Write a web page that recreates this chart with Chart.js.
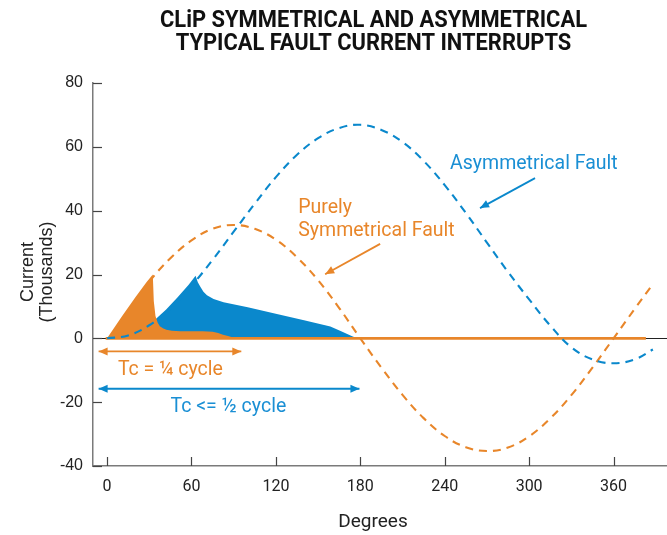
<!DOCTYPE html>
<html><head><meta charset="utf-8">
<script src="https://cdn.jsdelivr.net/npm/chart.js@4"></script>
<style>html,body{margin:0;padding:0;background:#fff;overflow:hidden}</style>
</head><body>
<canvas id="c" width="667" height="535"></canvas>
<script>
// ---- data ----
const degrees = [0,15,30,45,60,75,90,105,120,135,150,165,180,195,210,225,240,255,270,285,300,315,330,345,360,375,388];
const asymmetricalFault = [0,0.9,4.1,9.3,16.4,24.6,33.4,42.2,50.5,57.5,62.7,65.9,66.9,65.3,61.5,55.6,48.0,39.3,30.0,20.8,12.2,4.0,-2.8,-6.6,-7.8,-6.6,-3.5];
const symmetricalFault = [0,9.2,17.8,25.1,30.7,34.3,35.5,34.3,30.9,25.4,18.2,9.5,0,-9.2,-17.7,-25.0,-30.6,-34.1,-35.3,-34.2,-30.7,-25.1,-17.8,-9.2,0,9.2,17.0];

const symInterruptDeg = [0,10,20,28,32.5,33.2,34.4,36,37.5,40,42.2,46,52,60,68,75,79,82.4,86,89.5,91];
const symInterruptCurrent = [0,6.5,12.8,17.6,20.0,11.7,7.0,4.9,3.8,3.1,2.7,2.4,2.2,2.2,2.2,2.1,1.7,1.1,0.7,0.3,0];

const asymInterruptDeg = [0,15,30,36,42,50,58,62.9,64.5,66.3,68.5,71,75.7,82.8,100,123,140,158.7,166,170.3,175,179];
const asymInterruptCurrent = [0,0.9,4.1,6.6,9.0,12.8,16.8,19.6,17.6,16.2,14.6,13.5,12.3,11.3,9.7,7.4,5.7,3.7,2.3,1.4,0.5,0];

const zeroLineDeg = [-1,383];
const zeroLineCurrent = [0,0];

const xTickValues = [0,60,120,180,240,300,360];
const yTickValues = [-40,-20,0,20,40,60,80];

const titleLines = ['CLiP SYMMETRICAL AND ASYMMETRICAL','TYPICAL FAULT CURRENT INTERRUPTS'];
const xAxisTitle = 'Degrees';
const yAxisTitleLines = ['Current','(Thousands)'];

// ---- annotations (data coordinates) ----
const BLUE = '#0a88cc', ORANGE = '#e8862a', BLUE_TEXT = '#1a8fd4';
const symHiddenBelowDeg = 30; // dashed symmetrical curve is hidden under the orange interrupt area
const arrows = [
  {from:[304.2,50.2], to:[265.1,40.8], color:BLUE, both:false},
  {from:[194.1,29.6], to:[155,20.1], color:ORANGE, both:false},
  {from:[-6,-4.1], to:[95.4,-4.1], color:ORANGE, both:true},
  {from:[-6,-15.8], to:[179.4,-15.8], color:BLUE, both:true}
];
const notes = [
  {text:'Asymmetrical Fault', at:[243.8,54.7], align:'left', color:BLUE_TEXT},
  {text:'Purely', at:[135.9,40.7], align:'left', color:ORANGE},
  {text:'Symmetrical Fault', at:[135.9,33.7], align:'left', color:ORANGE},
  {text:'Tc = ¼ cycle', at:[45,-10.0], align:'center', color:ORANGE},
  {text:'Tc <= ½ cycle', at:[86.2,-21.5], align:'center', color:BLUE_TEXT}
];

const pts = (xs, ys) => xs.map((x,i)=>({x:x, y:ys[i]}));

function head(ctx, x1,y1,x2,y2,len,half){
  const a=Math.atan2(y2-y1,x2-x1);
  ctx.beginPath();
  ctx.moveTo(x2,y2);
  ctx.lineTo(x2-len*Math.cos(a)+half*Math.sin(a), y2-len*Math.sin(a)-half*Math.cos(a));
  ctx.lineTo(x2-len*Math.cos(a)-half*Math.sin(a), y2-len*Math.sin(a)+half*Math.cos(a));
  ctx.closePath(); ctx.fill();
}

const decor = {
  id:'decor',
  afterDatasetsDraw(chart){
    const ctx=chart.ctx, xs=chart.scales.x, ys=chart.scales.y, ca=chart.chartArea;
    ctx.save();
    ctx.strokeStyle='#444'; ctx.lineWidth=1.2;
    xTickValues.forEach(v=>{const px=Math.round(xs.getPixelForValue(v))+0.5; ctx.beginPath(); ctx.moveTo(px,ca.bottom); ctx.lineTo(px,ca.bottom-9); ctx.stroke();});
    yTickValues.forEach(v=>{const py=Math.round(ys.getPixelForValue(v))+0.5; ctx.beginPath(); ctx.moveTo(ca.left,py); ctx.lineTo(ca.left+9,py); ctx.stroke();});
    arrows.forEach(a=>{
      const x1=xs.getPixelForValue(a.from[0]), y1=ys.getPixelForValue(a.from[1]);
      const x2=xs.getPixelForValue(a.to[0]), y2=ys.getPixelForValue(a.to[1]);
      ctx.strokeStyle=a.color; ctx.fillStyle=a.color; ctx.lineWidth=1.8;
      ctx.beginPath(); ctx.moveTo(x1,y1); ctx.lineTo(x2,y2); ctx.stroke();
      head(ctx,x1,y1,x2,y2,9,4);
      if(a.both) head(ctx,x2,y2,x1,y1,9,4);
    });
    ctx.font='19.5px Roboto'; ctx.textBaseline='middle';
    notes.forEach(n=>{
      ctx.fillStyle=n.color; ctx.textAlign=n.align;
      ctx.fillText(n.text, xs.getPixelForValue(n.at[0]), ys.getPixelForValue(n.at[1]));
    });
    ctx.restore();
  },
  afterDraw(chart){
    const ctx=chart.ctx;
    ctx.save();
    ctx.font='bold 23px Roboto'; ctx.fillStyle='#111'; ctx.textAlign='center'; ctx.textBaseline='alphabetic';
    const w=ctx.measureText(titleLines[0]).width, sx=427/w;
    [[titleLines[0],26.5],[titleLines[1],50]].forEach(([t,y])=>{
      ctx.save(); ctx.translate(373.5,y); ctx.scale(sx,1); ctx.fillText(t,0,0); ctx.restore();
    });
    ctx.font='19px Roboto'; ctx.fillStyle='#222'; ctx.textBaseline='middle';
    ctx.fillText(xAxisTitle, 373, 522);
    ctx.font='18px "Liberation Sans", Arial'; ctx.fillStyle='#222';
    ctx.translate(0,272); ctx.rotate(-Math.PI/2);
    ctx.fillText(yAxisTitleLines[0],0,28);
    ctx.fillText(yAxisTitleLines[1],0,47);
    ctx.restore();
  }
};

new Chart(document.getElementById('c'), {
  type:'line',
  data:{datasets:[
    {label:'Asymmetrical Fault', data:pts(degrees,asymmetricalFault), borderColor:BLUE, borderWidth:2.1, borderDash:[8,6], pointRadius:0, tension:0.4, fill:false},
    {label:'Tc 1/4', data:pts(symInterruptDeg,symInterruptCurrent), borderWidth:0, borderColor:'rgba(0,0,0,0)', backgroundColor:ORANGE, pointRadius:0, tension:0, fill:'origin'},
    {label:'Purely Symmetrical Fault', data:pts(degrees,symmetricalFault), borderColor:ORANGE, borderWidth:2.1, borderDash:[8,6], pointRadius:0, tension:0.4, fill:false,
      segment:{borderColor:c=>c.p1.parsed.x<=symHiddenBelowDeg ? 'rgba(0,0,0,0)' : ORANGE}},
    {label:'zero', data:pts(zeroLineDeg,zeroLineCurrent), borderColor:ORANGE, borderWidth:2.6, pointRadius:0, fill:false},
    {label:'Tc 1/2', data:pts(asymInterruptDeg,asymInterruptCurrent), borderWidth:0, borderColor:'rgba(0,0,0,0)', backgroundColor:BLUE, pointRadius:0, tension:0, fill:'origin'}
  ]},
  options:{
    responsive:false, animation:false, devicePixelRatio:1,
    layout:{padding:{top:83,right:0,bottom:0,left:0}},
    plugins:{legend:{display:false}, tooltip:{enabled:false}, title:{display:false}},
    scales:{
      x:{type:'linear', min:-10, max:398,
        afterBuildTicks:s=>{s.ticks=xTickValues.map(v=>({value:v}));},
        afterFit:s=>{s.height=69;},
        grid:{display:false, drawTicks:false},
        border:{display:true, color:'#7a7a7a', width:1.5},
        ticks:{padding:11, color:'#222', font:{family:'Roboto', size:16}, maxRotation:0, autoSkip:false}
      },
      y:{min:-40, max:80,
        afterBuildTicks:s=>{s.ticks=yTickValues.map(v=>({value:v}));},
        afterFit:s=>{s.width=93;},
        grid:{drawTicks:false, lineWidth:1, color:c=>c.tick && c.tick.value===0 ? '#222' : 'rgba(0,0,0,0)'},
        border:{display:true, color:'#7a7a7a', width:1.5},
        ticks:{padding:10, color:'#222', font:{family:'"Liberation Sans", Arial', size:16}}
      }
    }
  },
  plugins:[decor]
});
</script>
</body></html>
